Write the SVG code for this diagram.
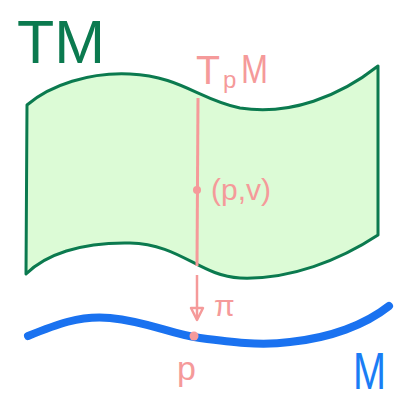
<svg xmlns="http://www.w3.org/2000/svg" width="398" height="401" viewBox="0 0 398 401">
<style>
.g{fill:#0b7a4f;font-family:"Liberation Sans",sans-serif}
.pk{fill:#f59a9a;font-family:"Liberation Sans",sans-serif}
.bl{fill:#1a7df5;font-family:"Liberation Sans",sans-serif}
</style>
<rect width="398" height="401" fill="#ffffff"/>
<g id="TM-sheet">
<path d="M27,105 C50,85 90,72 130,74 C180,76 200,100 240,108 C290,116 340,96 378,66 L378,235 C340,260 290,280 240,278 C200,276 180,244 130,243 C80,242 45,255 26,274 Z" fill="#dcfbd6" stroke="#0b7a4f" stroke-width="3" stroke-linejoin="round"/>
<text class="g" x="17" y="63" font-size="62" textLength="88" lengthAdjust="spacingAndGlyphs">TM</text>
</g>
<g id="connectors">
<line x1="198" y1="98" x2="197" y2="266" stroke="#f59a9a" stroke-width="3"/>
<line x1="197" y1="275" x2="197" y2="318" stroke="#f59a9a" stroke-width="2.5"/>
<path d="M191,308 L197,320 L203,308 Z" fill="none" stroke="#f59a9a" stroke-width="2.5" stroke-linejoin="round"/>
<text class="pk" x="214" y="316" font-size="30">π</text>
</g>
<g id="TpM">
<text class="pk" x="196" y="84" font-size="40" textLength="24" lengthAdjust="spacingAndGlyphs">T</text>
<text class="pk" x="223" y="88" font-size="24">p</text>
<text class="pk" x="241" y="83" font-size="40" textLength="27" lengthAdjust="spacingAndGlyphs">M</text>
</g>
<g id="point-pv">
<circle cx="197" cy="190" r="4" fill="#f59a9a"/>
<text class="pk" x="211" y="200" font-size="30">(p,v)</text>
</g>
<g id="M-base">
<path d="M28,336 C55,325 80,315 110,318 C150,322 170,334 200,338 C230,342 260,346 290,342 C330,338 365,325 389,306" fill="none" stroke="#1a72f0" stroke-width="8" stroke-linecap="round"/>
<text class="bl" x="353" y="389" font-size="52" textLength="33" lengthAdjust="spacingAndGlyphs">M</text>
</g>
<g id="point-p">
<circle cx="194" cy="336" r="4.5" fill="#f59a9a"/>
<text class="pk" x="177" y="380" font-size="34">p</text>
</g>
</svg>
